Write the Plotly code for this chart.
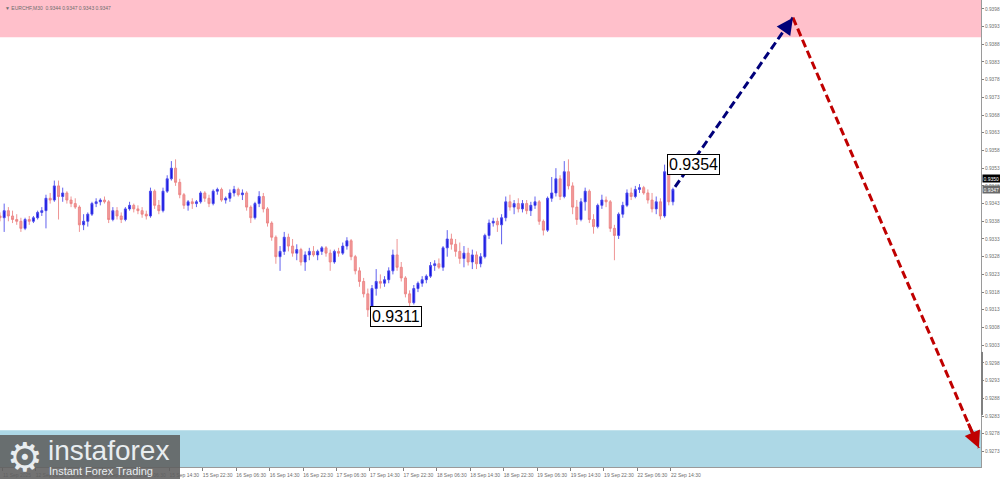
import plotly.graph_objects as go

# ---------------- data (prices in pips above 0.9300) ----------------
BASE = 0.93
PIP = 0.0001

opens = [39.5, 39, 41, 39.5, 38.5, 38, 36, 38.5, 38, 39,
         40.5, 41, 44.5, 44, 48, 45, 46, 44, 43, 42,
         37, 38, 40, 43, 43.5, 44, 43.5, 38.5, 41, 39.5,
         38.5, 41.5, 42.5, 41.5, 41, 40, 39.5, 46.5, 42.5, 41,
         46.5, 50, 53, 49, 45.5, 42.5, 43.5, 43, 43.5, 46,
         44.5, 43, 46.5, 47, 44, 44.5, 46, 47, 45.5, 46,
         42, 39, 43, 45, 41.5, 37.5, 33.5, 28, 29.5, 33.5,
         31, 29, 30, 26.5, 28.5, 29.5, 28.5, 29.5, 30.5, 29,
         26.5, 29.5, 29, 31, 32.5, 28, 24, 21, 17.5, 13,
         19, 21, 20.5, 21.5, 24, 28.5, 25, 22, 17.5, 15,
         19, 20.5, 21.5, 22.5, 25.5, 26, 25, 30.5, 33, 31.5,
         29.5, 27.5, 29, 26.5, 28.5, 26, 28, 34, 37.5, 38,
         37, 39, 43.5, 42, 43, 41.5, 43, 41, 42.5, 43.5,
         38, 35.5, 44.5, 46, 50, 45, 52, 48, 42, 38.5,
         43.5, 46.5, 38.5, 36.5, 42.5, 44, 43.5, 36, 34, 40,
         42.5, 46, 45, 47, 47.5, 46, 44, 41.5, 43.5, 39.5,
         52, 43.5]
highs = [40.5, 43, 42, 41, 40, 39, 39, 39.5, 39.5, 41,
         42, 45.5, 46, 49.5, 49.5, 47.5, 46.5, 45, 44.5, 42.5,
         40, 40.5, 43.5, 44.5, 44.5, 45, 44, 42, 42, 40.5,
         42, 43.5, 43, 42.5, 42, 41, 47.5, 47, 44, 47.5,
         51, 55, 55.5, 50, 46, 44, 44.5, 44, 46.5, 46.5,
         45.5, 47, 47.5, 47.5, 45, 47, 48, 47.5, 47, 46.5,
         42.5, 43.5, 46.5, 46, 42, 38, 34, 31, 35, 34.5,
         33, 31.5, 30.5, 29.5, 30.5, 31, 30, 31, 31, 30,
         30, 30.5, 32, 33.5, 33, 28.5, 25, 22, 19, 20,
         24.5, 23, 22.5, 25, 30, 33, 26.5, 22.5, 18.5, 20,
         21, 22.5, 23, 26.5, 27, 27.5, 31, 35.5, 34.5, 33,
         32, 31, 30.5, 30, 29.5, 29, 34.5, 38.5, 39, 39,
         40, 45, 45.5, 44, 44.5, 44, 44, 43.5, 45, 44,
         38.5, 45, 50.5, 53, 51, 55, 55.5, 49, 44, 44.5,
         47.5, 47, 40, 43, 45.5, 45, 44, 37, 40.5, 43.5,
         47, 47.5, 48, 48.5, 48, 47, 46, 45, 44.5, 54,
         52.5, 47.5]
lows = [38, 35, 38, 37.5, 37, 35, 35.5, 37, 37.5, 38.5,
        39.5, 36, 43, 43.5, 38.5, 43.5, 43, 42, 41.5, 35,
        35.5, 36.5, 39.5, 42, 42.5, 43, 37.5, 38, 38.5, 37.5,
        38, 41, 40.5, 40, 39, 38.5, 39, 41.5, 40, 40.5,
        46, 49.5, 48, 44.5, 41.5, 41, 41.5, 42, 43, 43.5,
        42, 42.5, 45.5, 43.5, 43, 43.5, 45, 45, 44, 41,
        37.5, 38.5, 42, 40.5, 36.5, 32.5, 26, 24, 28.5, 29.5,
        28, 27, 25.5, 24, 27, 28, 27, 28.5, 28, 24,
        26, 28, 28.5, 30, 27, 23, 19.5, 16.5, 11, 12.5,
        17, 19, 19.5, 20.5, 23, 24, 21, 16.5, 13, 14.5,
        18, 19.5, 20.5, 22, 24, 24.5, 24, 28, 30, 28,
        26, 25, 25.5, 24.5, 24.5, 25, 27.5, 33, 36.5, 35,
        31.5, 38, 41, 40, 40.5, 40.5, 40, 39.5, 41.5, 37,
        34, 35, 43.5, 45, 44, 44.5, 47, 40, 37, 38,
        41, 37.5, 34.5, 36, 41.5, 42, 35, 27, 33, 39,
        42, 44, 44.5, 46, 45.5, 43, 40.5, 40, 38.5, 39,
        42.5, 42.5]
closes = [39, 41, 39.5, 38.5, 38, 36, 38.5, 38, 39, 40.5,
          41, 44.5, 44, 48, 45, 46, 44, 43, 42, 37,
          38, 40, 43, 43.5, 44, 43.5, 38.5, 41, 39.5, 38.5,
          41.5, 42.5, 41.5, 41, 40, 39.5, 46.5, 42.5, 41, 46.5,
          50, 53, 49, 45.5, 42.5, 43.5, 43, 43.5, 46, 44.5,
          43, 46.5, 47, 44, 44.5, 46, 47, 45.5, 46, 42,
          39, 43, 45, 41.5, 37.5, 33.5, 28, 29.5, 33.5, 31,
          29, 30, 26.5, 28.5, 29.5, 28.5, 29.5, 30.5, 29, 26.5,
          29.5, 29, 31, 32.5, 28, 24, 21, 17.5, 13, 19,
          21, 20.5, 21.5, 24, 28.5, 25, 22, 17.5, 15, 19,
          20.5, 21.5, 22.5, 25.5, 26, 25, 30.5, 33, 31.5, 29.5,
          27.5, 29, 26.5, 28.5, 26, 28, 34, 37.5, 38, 37,
          39, 43.5, 42, 43, 41.5, 43, 41, 42.5, 43.5, 38,
          35.5, 44.5, 46, 50, 45, 52, 48, 42, 38.5, 43.5,
          46.5, 38.5, 36.5, 42.5, 44, 43.5, 36, 34, 40, 42.5,
          46, 45, 47, 47.5, 46, 44, 41.5, 43.5, 39.5, 52,
          43.5, 47]

tick_labels = ["11 Sep 2025", "12 Sep 06:30", "12 Sep 14:30", "12 Sep 22:30",
               "15 Sep 06:30", "15 Sep 14:30", "15 Sep 22:30", "16 Sep 06:30",
               "16 Sep 14:30", "16 Sep 22:30", "17 Sep 06:30", "17 Sep 14:30",
               "17 Sep 22:30", "18 Sep 06:30", "18 Sep 14:30", "18 Sep 22:30",
               "19 Sep 06:30", "19 Sep 14:30", "19 Sep 22:30", "22 Sep 06:30",
               "22 Sep 14:30"]

# forecast path (bar index, price)
forecast_x = [161.5, 189.7, 234.2]
forecast_y = [0.93477, 0.93955, 0.92740]

resistance_zone = [0.9390, 0.94005]
support_zone = [0.92686, 0.9279]

low_label = (88, 0.9311, "0.9311")
high_label = (159, 0.9354, "0.9354")

ohlc_title = "\u25bc EURCHF,M30  0.9344 0.9347 0.9343 0.9347"
bid_price = 0.9350
last_price = 0.9347

# ---------------- build ----------------
to_price = lambda arr: [round(BASE + v * PIP, 5) for v in arr]
idx = list(range(len(closes)))

X_RANGE = [0, 234.7]
Y_RANGE = [0.92686, 0.94005]
PLOT_W, PLOT_H = 981, 467
SMALL = dict(family="Liberation Sans", size=5, color="#6e6e6e")

fig = go.Figure()

fig.add_trace(go.Candlestick(
    x=idx, open=to_price(opens), high=to_price(highs),
    low=to_price(lows), close=to_price(closes),
    increasing=dict(line=dict(color="rgba(70,70,235,0.85)", width=1), fillcolor="#1515e0"),
    decreasing=dict(line=dict(color="rgba(235,130,130,0.85)", width=1), fillcolor="#f29a9a"),
    whiskerwidth=0, showlegend=False, hoverinfo="skip",
))

# forecast dashed lines
fig.add_trace(go.Scatter(x=forecast_x[:2], y=forecast_y[:2], mode="lines",
                         line=dict(color="#00007a", width=3, dash="8px,4px"),
                         showlegend=False, hoverinfo="skip"))
fig.add_trace(go.Scatter(x=forecast_x[1:], y=forecast_y[1:], mode="lines",
                         line=dict(color="#c00000", width=3, dash="8px,4px"),
                         showlegend=False, hoverinfo="skip"))

shapes = [
    dict(type="rect", xref="paper", yref="y", x0=0, x1=1,
         y0=resistance_zone[0], y1=resistance_zone[1],
         fillcolor="#ffc0cb", line=dict(width=0), layer="below"),
    dict(type="rect", xref="paper", yref="y", x0=0, x1=1,
         y0=support_zone[0], y1=support_zone[1],
         fillcolor="#add8e6", line=dict(width=0), layer="below"),
    # scroll marker on price scale
    dict(type="line", xref="paper", yref="y", x0=1.001, x1=1.001,
         y0=0.92833, y1=0.93011, line=dict(color="#808080", width=2)),
    # logo background
    dict(type="rect", xref="paper", yref="paper", x0=0, x1=180 / PLOT_W,
         y0=(PLOT_H - 479) / PLOT_H, y1=(PLOT_H - 435) / PLOT_H,
         fillcolor="rgba(95,95,95,0.88)", line=dict(width=0), layer="above"),
]

annotations = []


def arrow_head(i0, i1, color):
    tx, ty = forecast_x[i1], forecast_y[i1]
    sx, sy = forecast_x[i0], forecast_y[i0]
    f = 0.06
    return dict(x=tx, y=ty, ax=tx + (sx - tx) * f, ay=ty + (sy - ty) * f,
                xref="x", yref="y", axref="x", ayref="y", text="",
                showarrow=True, arrowhead=2, arrowsize=1.1, arrowwidth=3,
                arrowcolor=color, standoff=0)


annotations.append(arrow_head(0, 1, "#00007a"))
annotations.append(arrow_head(1, 2, "#c00000"))

for (bx, by, txt) in (low_label, high_label):
    annotations.append(dict(x=bx, y=by, xref="x", yref="y", text=txt,
                            showarrow=False, xanchor="left", yanchor="middle",
                            xshift=2, font=dict(family="Liberation Sans", size=16, color="#000"),
                            bgcolor="#ffffff", bordercolor="#000000", borderwidth=1, borderpad=1))

annotations.append(dict(x=0, y=1, xref="paper", yref="paper", text=ohlc_title,
                        showarrow=False, xanchor="left", yanchor="top", xshift=3, yshift=-3,
                        font=SMALL))

for price, bg in ((bid_price, "#000000"), (last_price, "#6a6a6a")):
    annotations.append(dict(x=1, y=price, xref="paper", yref="y", text=f"{price:.4f}",
                            showarrow=False, xanchor="left", yanchor="middle", xshift=1,
                            font=dict(family="Liberation Sans", size=5, color="#ffffff"),
                            bgcolor=bg, borderpad=0.5))

# logo texts
annotations.append(dict(x=25 / PLOT_W, y=(PLOT_H - 457) / PLOT_H, xref="paper", yref="paper",
                        text="\u2699", showarrow=False, xanchor="center", yanchor="middle",
                        font=dict(family="DejaVu Sans", size=40, color="#e8edf0")))
annotations.append(dict(x=46 / PLOT_W, y=(PLOT_H - 450) / PLOT_H, xref="paper", yref="paper",
                        text="instaforex", showarrow=False, xanchor="left", yanchor="middle",
                        font=dict(family="Liberation Sans", size=28, color="#e8edf0")))
annotations.append(dict(x=47 / PLOT_W, y=(PLOT_H - 471) / PLOT_H, xref="paper", yref="paper",
                        text="Instant Forex Trading", showarrow=False, xanchor="left", yanchor="middle",
                        font=dict(family="Liberation Sans", size=11, color="#e8edf0")))

y_ticks = [round(0.9273 + 0.0005 * i, 4) for i in range(26)]
x_ticks = [0.5 + 8 * i for i in range(len(tick_labels))]

fig.update_layout(
    width=1000, height=479,
    margin=dict(l=0, r=19, t=0, b=12, autoexpand=False),
    paper_bgcolor="#ffffff", plot_bgcolor="#ffffff",
    shapes=shapes, annotations=annotations,
    showlegend=False,
    xaxis=dict(range=X_RANGE, rangeslider=dict(visible=False), showgrid=False, zeroline=False,
               automargin=False, tickangle=0,
               tickvals=x_ticks, ticktext=tick_labels, ticks="outside", ticklen=3,
               tickcolor="#808080", ticklabelshift=15, ticklabelstandoff=0,
               tickfont=SMALL,
               showline=True, linecolor="#9a9a9a", linewidth=1, mirror=True),
    yaxis=dict(range=Y_RANGE, side="right", showgrid=False, zeroline=False,
               automargin=False,
               tickvals=y_ticks, tickformat=".4f", ticks="outside", ticklen=2,
               tickcolor="#808080", ticklabelstandoff=0,
               tickfont=dict(family="Liberation Sans", size=4.8, color="#6e6e6e"),
               showline=True, linecolor="#9a9a9a", linewidth=1, mirror=True),
)

fig.write_html("out.html",
               config={"displayModeBar": False},
               post_script="document.body.style.margin='0';document.body.style.padding='0';"
                           "document.documentElement.style.overflow='hidden';")
